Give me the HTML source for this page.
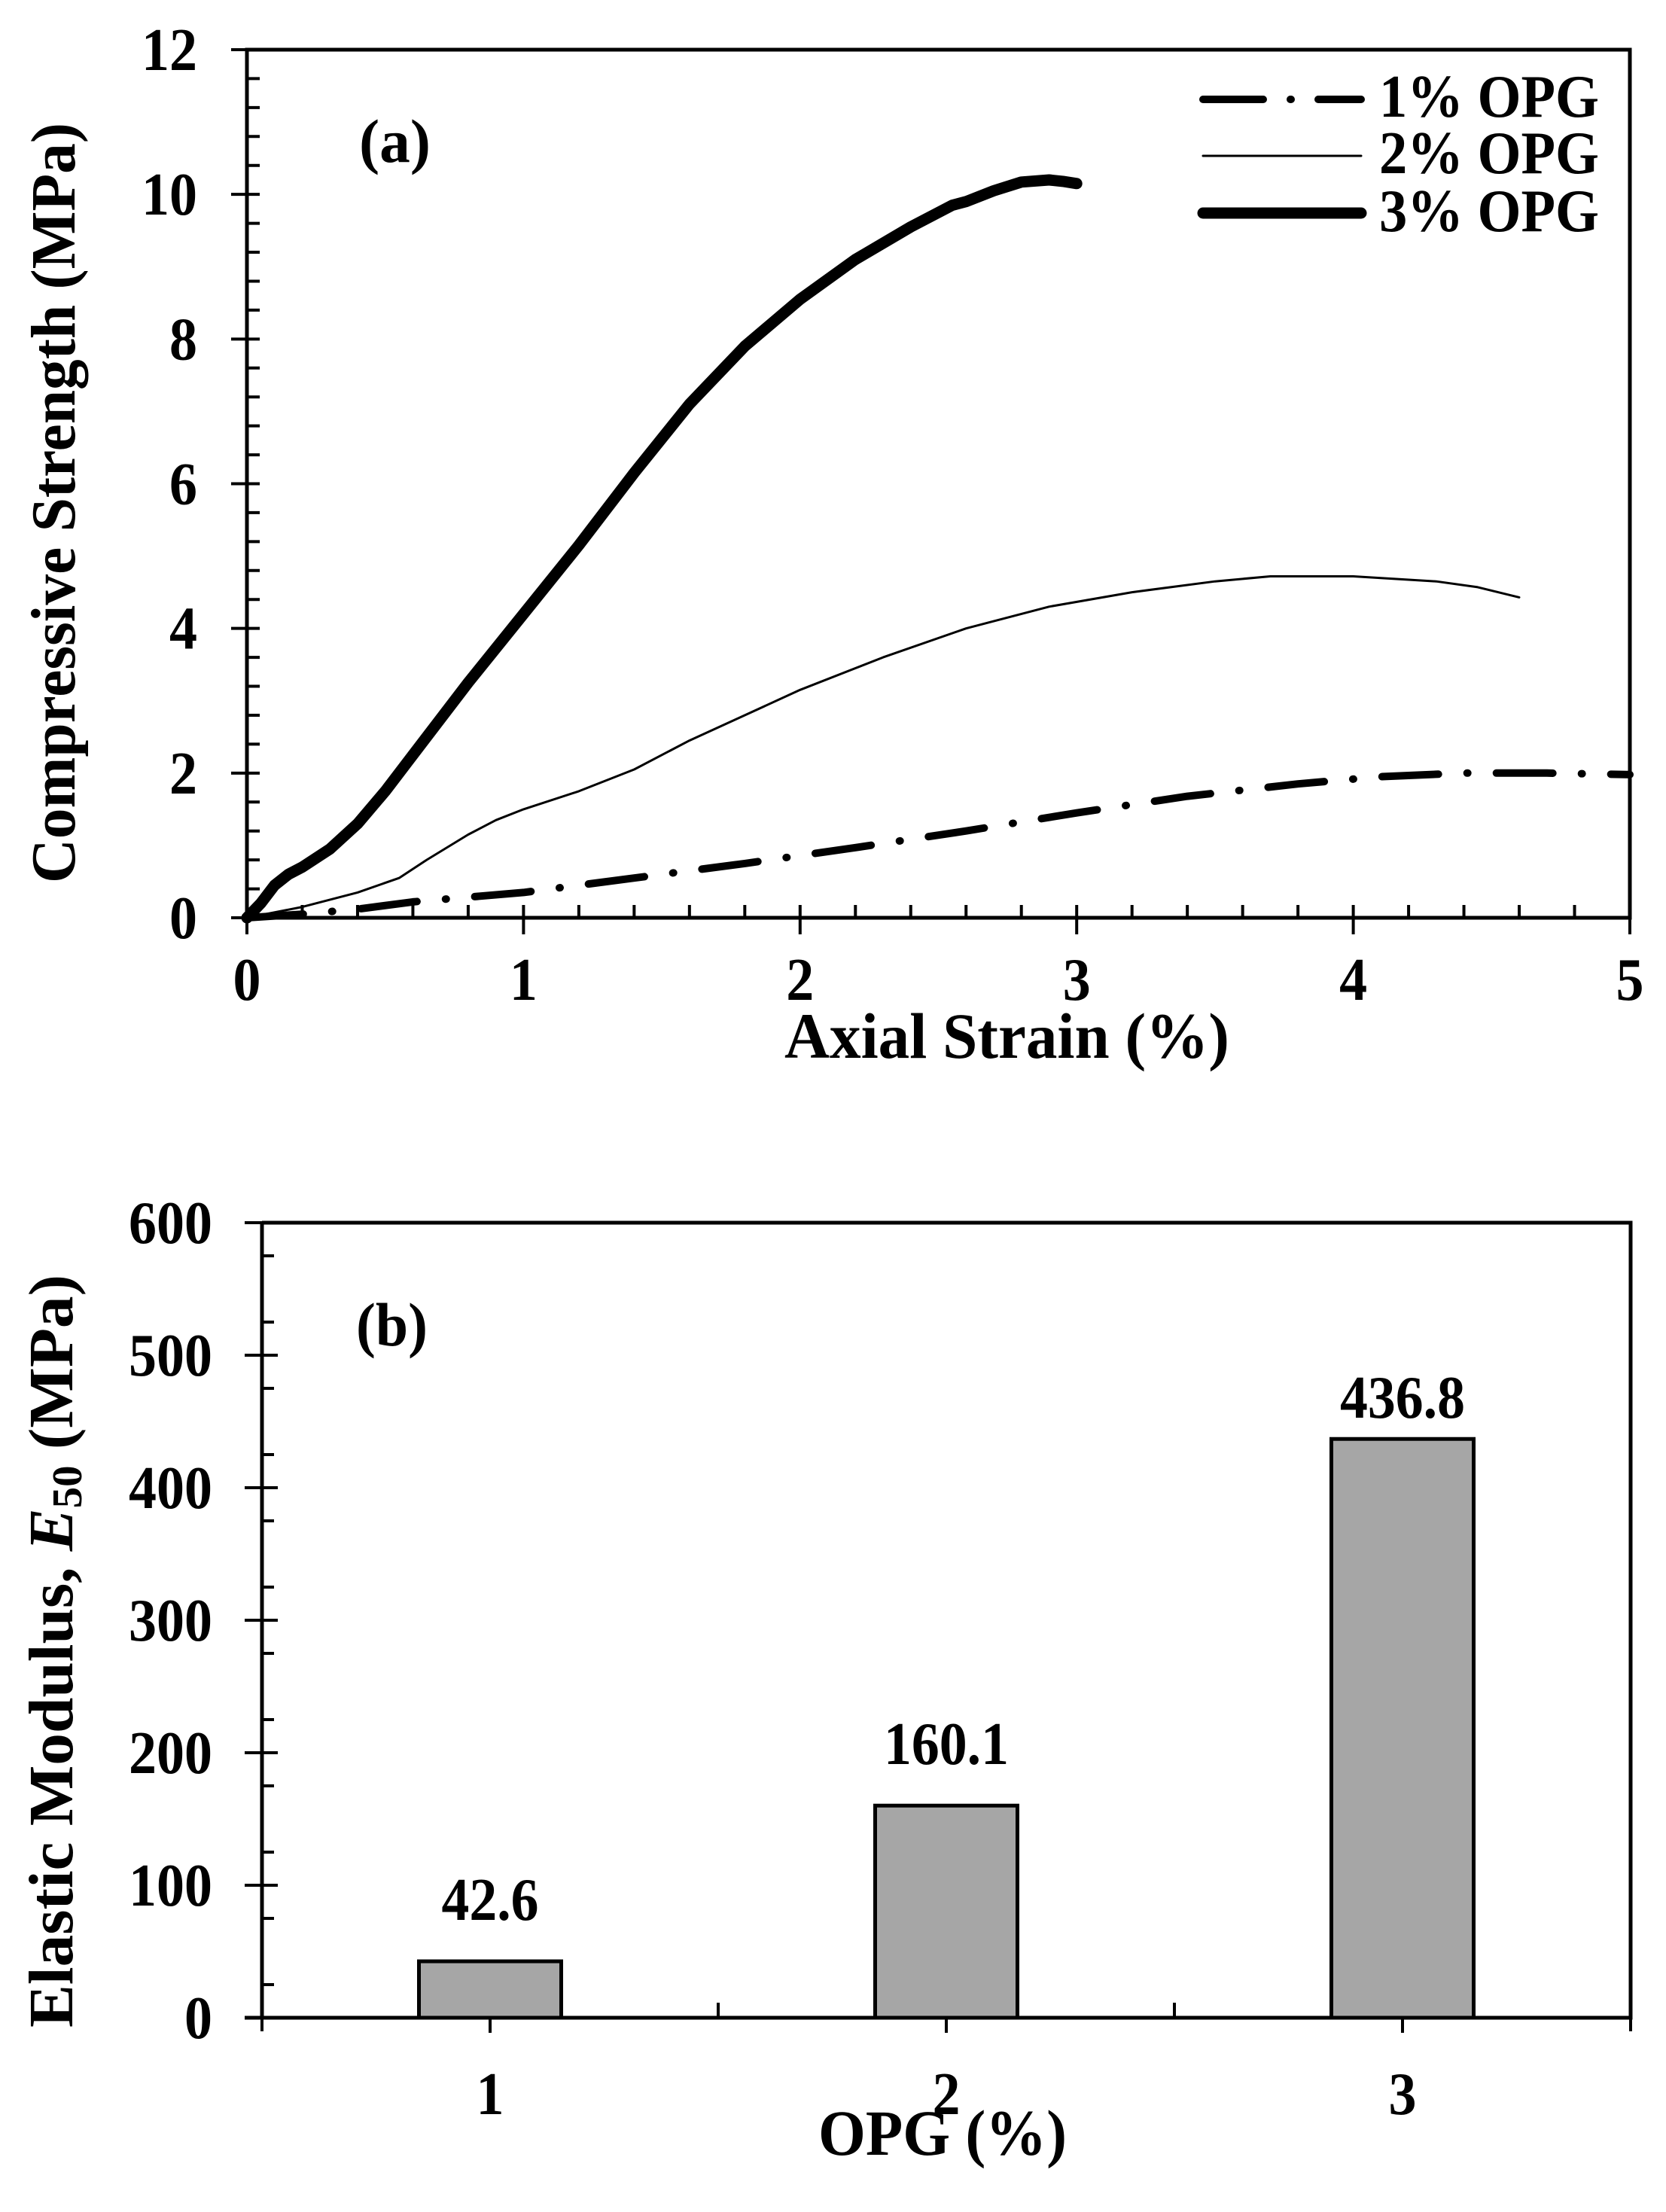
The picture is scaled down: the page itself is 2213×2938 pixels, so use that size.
<!DOCTYPE html>
<html><head><meta charset="utf-8"><style>
html,body{margin:0;padding:0;background:#fff;}
svg text{font-family:"Liberation Serif","Times New Roman",serif;font-weight:bold;fill:#000;}
</style></head><body>
<svg id="fig" width="2213" height="2933" viewBox="0 0 2213 2933" xmlns="http://www.w3.org/2000/svg">
<rect width="2213" height="2933" fill="#fff"/>
<g id="pa"></g>
<g id="pb"></g>
</svg>
<script>
// ---- Panel (a) data ----
const s1x = [0,0.2,0.4,0.6,1.0,1.4,1.8,2.2,2.6,3.0,3.4,3.8,4.1,4.4,4.7,5.0];
const s1y = [0,0.05,0.12,0.22,0.35,0.55,0.75,0.97,1.2,1.45,1.68,1.85,1.95,2.0,2.0,1.98];
const s2x = [0,0.2,0.4,0.55,0.65,0.8,0.9,1.0,1.2,1.4,1.6,1.8,2.0,2.3,2.6,2.9,3.2,3.5,3.7,4.0,4.3,4.45,4.6];
const s2y = [0,0.15,0.35,0.55,0.8,1.15,1.35,1.5,1.75,2.05,2.45,2.8,3.15,3.6,4.0,4.3,4.5,4.65,4.72,4.72,4.65,4.57,4.43];
const s3x = [0,0.05,0.1,0.15,0.2,0.3,0.4,0.5,0.6,0.8,1.0,1.2,1.4,1.6,1.8,2.0,2.2,2.4,2.55,2.6,2.7,2.8,2.9,2.95,3.0];
const s3y = [0,0.2,0.45,0.6,0.7,0.95,1.3,1.75,2.25,3.25,4.2,5.15,6.15,7.1,7.9,8.55,9.1,9.55,9.85,9.9,10.05,10.17,10.2,10.18,10.15];
const aXTicks = [0,1,2,3,4,5];
const aYTicks = [0,2,4,6,8,10,12];
const legendLabels = ["1% OPG","2% OPG","3% OPG"];
// ---- Panel (b) data ----
const bCats = [1,2,3];
const bVals = [42.6,160.1,436.8];
const bLabels = ["42.6","160.1","436.8"];
const bYTicks = [0,100,200,300,400,500,600];

const NS="http://www.w3.org/2000/svg";
function mk(parent,tag,attrs,txt){const e=document.createElementNS(NS,tag);for(const k in attrs)e.setAttribute(k,attrs[k]);if(txt!==undefined)e.textContent=txt;parent.appendChild(e);return e;}
function numLen(s){let w=0;for(const c of s)w+=(c==='.')?18:37;return w;}

// Panel a
const pa=document.getElementById('pa');
const A={l:328,r:2165,t:66,b:1219};
const ax=v=>A.l+(v-0)/(5-0)*(A.r-A.l);
const ay=v=>A.b-(v-0)/(12-0)*(A.b-A.t);
for(let i=1;i<25;i++){const v=i*0.2;if(Math.abs(v-Math.round(v))<1e-6)continue;
 const t=mk(pa,'line',{x1:ax(v),x2:ax(v),y1:A.b,y2:A.b-17,stroke:'#000','stroke-width':4});
 
 }
for(let i=1;i<30;i++){const v=i*0.4;if(Math.abs(v/2-Math.round(v/2))<1e-6)continue;
 const t=mk(pa,'line',{x1:A.l,x2:A.l+17,y1:ay(v),y2:ay(v),stroke:'#000','stroke-width':4});
 
 }
aXTicks.forEach(v=>{
 const t=mk(pa,'line',{x1:ax(v),x2:ax(v),y1:A.b-17,y2:A.b+22,stroke:'#000','stroke-width':4});
 
 
 const s=String(v);
 const l=mk(pa,'text',{x:ax(v),y:1328,'font-size':80,'text-anchor':'middle',textLength:numLen(s),lengthAdjust:'spacingAndGlyphs'},s);
 
 });
aYTicks.forEach(v=>{
 const t=mk(pa,'line',{x1:A.l-21,x2:A.l+17,y1:ay(v),y2:ay(v),stroke:'#000','stroke-width':4});
 
 
 const s=String(v);
 const l=mk(pa,'text',{x:262,y:ay(v)+27,'font-size':80,'text-anchor':'end',textLength:numLen(s),lengthAdjust:'spacingAndGlyphs'},s);
 
 });
function curve(xs,ys,w,dash,name){
 const d=xs.map((x,i)=>(i?'L':'M')+ax(x).toFixed(1)+','+ay(ys[i]).toFixed(1)).join(' ');
 const p=mk(pa,'path',{d:d,fill:'none',stroke:'#000','stroke-width':w,'stroke-linecap':'round','stroke-linejoin':'round'});
 if(dash)p.setAttribute('stroke-dasharray',dash);
 
 }
curve(s1x,s1y,10,'75,38,1,38','series-1pct-opg');
curve(s2x,s2y,3,null,'series-2pct-opg');
curve(s3x,s3y,15,null,'series-3pct-opg');
const fa=mk(pa,'rect',{x:A.l,y:A.t,width:A.r-A.l,height:A.b-A.t,fill:'none',stroke:'#000','stroke-width':5});


const lgY=[132,207,283],lgW=[10,3,15],lgD=['80,36,1,36',null,null],lgB=[155,230,307];
legendLabels.forEach((s,i)=>{
 const ln=mk(pa,'line',{x1:1598,x2:1808,y1:lgY[i],y2:lgY[i],stroke:'#000','stroke-width':lgW[i],'stroke-linecap':'round'});
 if(lgD[i])ln.setAttribute('stroke-dasharray',lgD[i]);
 
 
 const t=mk(pa,'text',{x:1832,y:lgB[i],'font-size':80,textLength:292,lengthAdjust:'spacingAndGlyphs'},s);
 
 });
const pla=mk(pa,'text',{x:477,y:215,'font-size':82,textLength:95,lengthAdjust:'spacingAndGlyphs'},'(a)');


const xta=mk(pa,'text',{x:1042,y:1405,'font-size':86,textLength:591,lengthAdjust:'spacingAndGlyphs'},'Axial Strain (%)');


const yta=mk(pa,'text',{x:0,y:0,'font-size':84,'text-anchor':'middle',textLength:1010,lengthAdjust:'spacingAndGlyphs',transform:'translate(99,668) rotate(-90)'},'Compressive Strength (MPa)');



// Panel b
const pb=document.getElementById('pb');
const B={l:348,r:2166,t:1624,b:2680};
const bx=v=>B.l+(v-0.5)/3*(B.r-B.l);
const by=v=>B.b-v/600*(B.b-B.t);
for(let v=25;v<600;v+=50){
 const t=mk(pb,'line',{x1:B.l,x2:B.l+16,y1:by(v),y2:by(v),stroke:'#000','stroke-width':4});
 
 }
bYTicks.forEach(v=>{
 const t=mk(pb,'line',{x1:B.l-23,x2:B.l+21,y1:by(v),y2:by(v),stroke:'#000','stroke-width':4});
 
 
 const s=String(v);
 const l=mk(pb,'text',{x:282,y:by(v)+27,'font-size':80,'text-anchor':'end',textLength:numLen(s),lengthAdjust:'spacingAndGlyphs'},s);
 
 });
[1.5,2.5].forEach(v=>{
 const t=mk(pb,'line',{x1:bx(v),x2:bx(v),y1:B.b,y2:B.b-20,stroke:'#000','stroke-width':4});
 
 });
[0.5,3.5].forEach(v=>{
 const t=mk(pb,'line',{x1:bx(v),x2:bx(v),y1:B.b,y2:B.b+18,stroke:'#000','stroke-width':4});
 
 });
const gaps=[55,55,28];
bCats.forEach((c,i)=>{
 const w=189,x=bx(c)-w/2,y=by(bVals[i]);
 const r=mk(pb,'rect',{x:x,y:y,width:w,height:B.b-y,fill:'#a6a6a6',stroke:'#000','stroke-width':5});
 
 
 const t=mk(pb,'line',{x1:bx(c),x2:bx(c),y1:B.b,y2:B.b+20,stroke:'#000','stroke-width':4});
 
 
 const s=String(c);
 const l=mk(pb,'text',{x:bx(c),y:2808,'font-size':80,'text-anchor':'middle',textLength:numLen(s),lengthAdjust:'spacingAndGlyphs'},s);
 
 
 const v=mk(pb,'text',{x:bx(c),y:y-gaps[i],'font-size':80,'text-anchor':'middle',textLength:numLen(bLabels[i]),lengthAdjust:'spacingAndGlyphs'},bLabels[i]);
 
 });
const axb=mk(pb,'path',{d:`M${B.l},${B.t} H${B.r} V${B.b} H${B.l-23} M${B.l},${B.b} V${B.t}`,fill:'none',stroke:'#000','stroke-width':5});


const plb=mk(pb,'text',{x:473,y:1787,'font-size':82,textLength:95,lengthAdjust:'spacingAndGlyphs'},'(b)');


const xtb=mk(pb,'text',{x:1252,y:2862,'font-size':86,'text-anchor':'middle',textLength:330,lengthAdjust:'spacingAndGlyphs'},'OPG (%)');


const ytb=mk(pb,'text',{x:0,y:0,'font-size':84,'text-anchor':'middle',textLength:1000,lengthAdjust:'spacingAndGlyphs',transform:'translate(96,2193) rotate(-90)'});


mk(ytb,'tspan',{},'Elastic Modulus, ');
mk(ytb,'tspan',{'font-style':'italic'},'E');
mk(ytb,'tspan',{'font-size':56,dy:12},'50');
mk(ytb,'tspan',{dy:-12},' (MPa)');
</script>
</body></html>
